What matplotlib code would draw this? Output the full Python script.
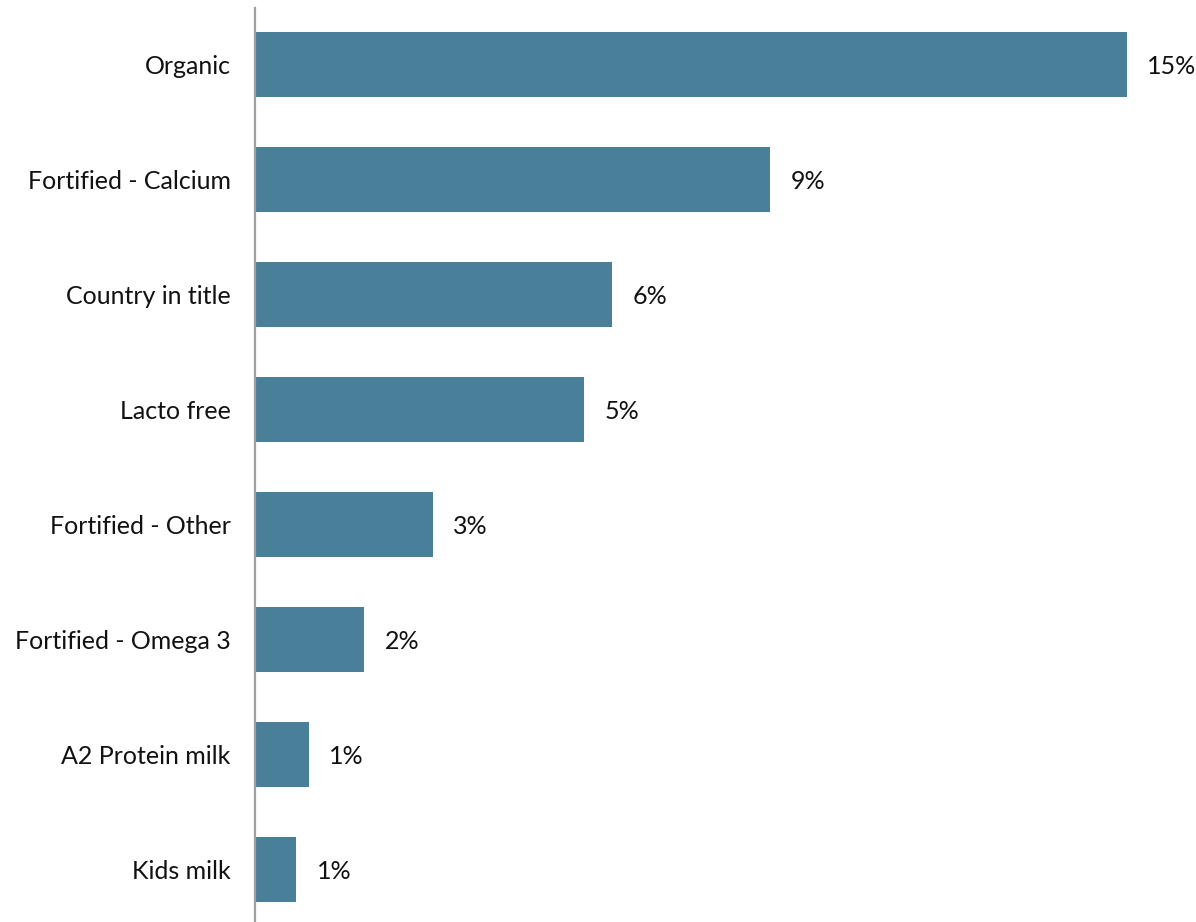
import matplotlib.pyplot as plt

categories = ["Organic", "Fortified - Calcium", "Country in title", "Lacto free",
              "Fortified - Other", "Fortified - Omega 3", "A2 Protein milk", "Kids milk"]
values = [15.0, 8.86, 6.14, 5.66, 3.06, 1.88, 0.93, 0.71]
value_labels = ["15%", "9%", "6%", "5%", "3%", "2%", "1%", "1%"]

plt.rcParams["font.family"] = ["Lato", "DejaVu Sans"]

fig = plt.figure(figsize=(11.96, 9.22), dpi=100)
ax = fig.add_axes([255 / 1196, 0, 941 / 1196, 914 / 922])

ypos = range(len(categories))
ax.barh(ypos, values, height=0.565, color="#4a7f9a")
for y, v, lab in zip(ypos, values, value_labels):
    ax.text(v + 0.35, y + 0.02, lab, va="center", ha="left", fontsize=18, color="#111111")

ax.set_yticks(list(ypos))
ax.set_yticklabels(categories, fontsize=18, color="#111111", va="center_baseline")
ax.tick_params(axis="y", length=0, pad=17.5)
ax.set_ylim(7.46, -0.49)
ax.set_xlim(0, 16.19)
ax.set_xticks([])
for s in ["top", "right", "bottom"]:
    ax.spines[s].set_visible(False)
ax.spines["left"].set_color("#a0a0a0")
ax.spines["left"].set_linewidth(1.6)

fig.savefig("out.png", dpi=100)
